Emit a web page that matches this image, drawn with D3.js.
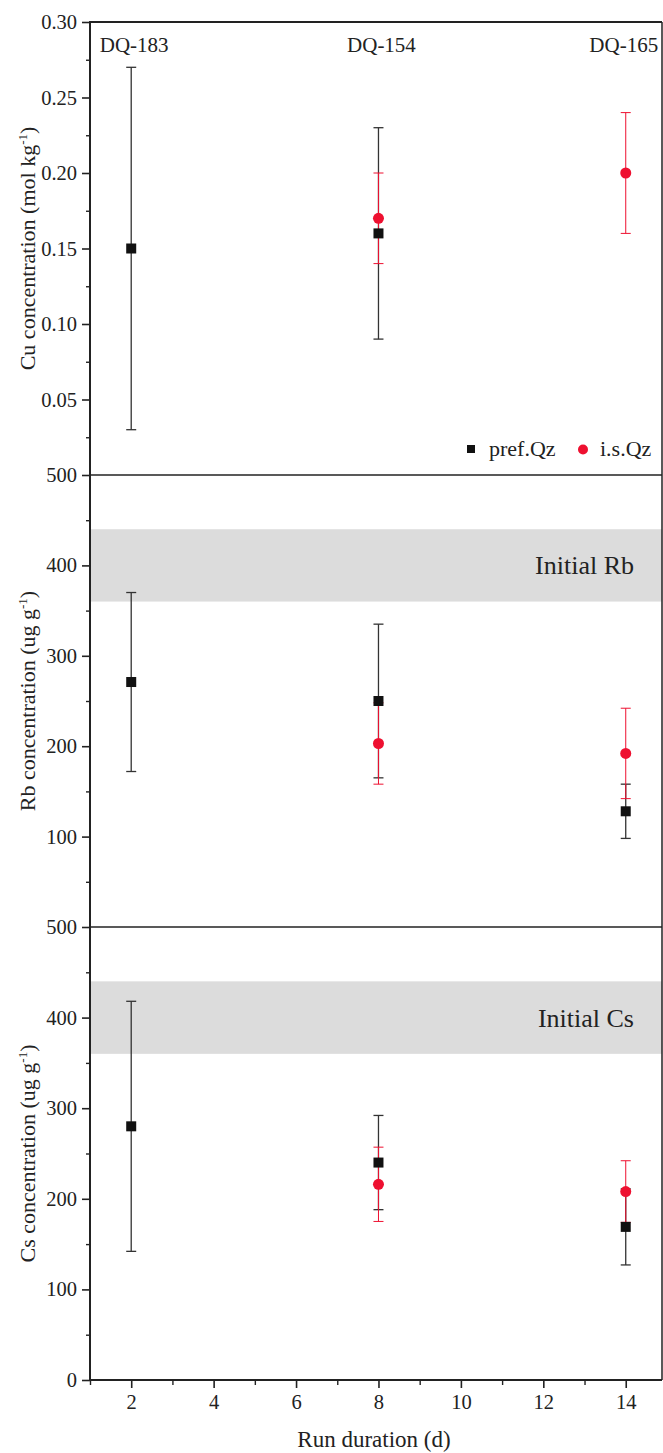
<!DOCTYPE html>
<html>
<head>
<meta charset="utf-8">
<script src="https://cdn.jsdelivr.net/npm/d3@7/dist/d3.min.js"></script>
<style>
  html, body { margin: 0; padding: 0; background: #fff; }
  svg { display: block; font-family: "Liberation Serif", "Times New Roman", serif; }
</style>
</head>
<body>
<svg id="chart" width="663" height="1453"></svg>
<script>
// ---------- data ----------
const runDays = [2, 8, 14];
const sampleIds = ["DQ-183", "DQ-154", "DQ-165"];

const cuPref = [0.15, 0.16, null];
const cuPrefErr = [0.12, 0.07, null];
const cuIs = [null, 0.17, 0.20];
const cuIsErr = [null, 0.03, 0.04];

const rbPref = [271, 250, 128];
const rbPrefErr = [99, 85, 30];
const rbIs = [null, 203, 192];
const rbIsErr = [null, 45, 50];

const csPref = [280, 240, 169];
const csPrefErr = [138, 52, 42];
const csIs = [null, 216, 208];
const csIsErr = [null, 41, 34];

const initialRb = [360, 440];
const initialCs = [360, 440];

const cuTicks = [0.05, 0.10, 0.15, 0.20, 0.25, 0.30];
const cuTickLabels = ["0.05", "0.10", "0.15", "0.20", "0.25", "0.30"];
const rbTicks = [100, 200, 300, 400, 500];
const csTicks = [0, 100, 200, 300, 400, 500];
const xTicks = [2, 4, 6, 8, 10, 12, 14];
const xMinorTicks = [1, 3, 5, 7, 9, 11, 13];

const legendLabels = ["pref.Qz", "i.s.Qz"];

// ---------- layout ----------
const svg = d3.select("#chart");
const left = 90, right = 662;
const panelTops = [22, 475, 927];
const bottom = 1380;
const red = "#ee1030";
const ink = "#222";
const tickFont = 20.5;

const x = d3.scaleLinear().domain([1, 14.88]).range([left, right]);

const yCu = d3.scaleLinear().domain([0, 0.30]).range([panelTops[1], panelTops[0]]);
const yRb = d3.scaleLinear().domain([0, 500]).range([panelTops[2], panelTops[1]]);
const yCs = d3.scaleLinear().domain([0, 500]).range([bottom, panelTops[2]]);

function toRows(vals, errs) {
  return runDays.map((d, i) => ({ x: d, y: vals[i], e: errs[i] })).filter(r => r.y != null);
}

// bands
function band(yScale, range, label) {
  svg.append("rect")
    .attr("x", left).attr("width", right - left)
    .attr("y", yScale(range[1]))
    .attr("height", yScale(range[0]) - yScale(range[1]))
    .attr("fill", "#dcdcdc");
  svg.append("text")
    .attr("x", 634).attr("y", (yScale(range[0]) + yScale(range[1])) / 2 + 9)
    .attr("text-anchor", "end")
    .attr("font-size", 26).attr("fill", ink)
    .text(label);
}
band(yRb, initialRb, "Initial Rb");
band(yCs, initialCs, "Initial Cs");

// error bars and markers
function errorBars(yScale, rows, color, width) {
  const g = svg.append("g").attr("stroke", color).attr("stroke-width", width).attr("fill", "none");
  rows.forEach(r => {
    g.append("line").attr("x1", x(r.x)).attr("x2", x(r.x))
      .attr("y1", yScale(r.y - r.e)).attr("y2", yScale(r.y + r.e));
    [r.y - r.e, r.y + r.e].forEach(v => {
      g.append("line").attr("x1", x(r.x) - 5).attr("x2", x(r.x) + 5)
        .attr("y1", yScale(v)).attr("y2", yScale(v));
    });
  });
}
function squares(yScale, rows) {
  svg.append("g").selectAll("rect").data(rows).join("rect")
    .attr("x", d => x(d.x) - 5).attr("y", d => yScale(d.y) - 5)
    .attr("width", 10).attr("height", 10).attr("fill", "#111");
}
function circles(yScale, rows) {
  svg.append("g").selectAll("circle").data(rows).join("circle")
    .attr("cx", d => x(d.x)).attr("cy", d => yScale(d.y))
    .attr("r", 5.5).attr("fill", red);
}

const panels = [
  [yCu, toRows(cuPref, cuPrefErr), toRows(cuIs, cuIsErr)],
  [yRb, toRows(rbPref, rbPrefErr), toRows(rbIs, rbIsErr)],
  [yCs, toRows(csPref, csPrefErr), toRows(csIs, csIsErr)]
];
panels.forEach(([ys, pref, is]) => {
  errorBars(ys, pref, "#333", 1.3);
  errorBars(ys, is, red, 1);
  squares(ys, pref);
  circles(ys, is);
});

// sample labels
svg.append("g").selectAll("text").data(runDays).join("text")
  .attr("x", (d, i) => x(d) + (i === 2 ? -2 : 3))
  .attr("y", 52)
  .attr("text-anchor", "middle")
  .attr("font-size", 21).attr("fill", ink)
  .text((d, i) => sampleIds[i]);

// axes
function yAxis(yScale, ticks, labels, minorStep, lo, hi) {
  const g = svg.append("g").attr("transform", `translate(${left},0)`);
  g.call(d3.axisLeft(yScale).tickValues(ticks).tickSize(8).tickPadding(5)
    .tickFormat((d, i) => labels ? labels[i] : d));
  g.select(".domain").remove();
  g.selectAll(".tick line").attr("stroke", ink).attr("stroke-width", 1.6);
  g.selectAll(".tick text").attr("font-size", tickFont).attr("fill", ink)
    .attr("font-family", "Liberation Serif, serif");
  const minor = d3.range(lo, hi + 1e-9, minorStep).filter(v => !ticks.some(t => Math.abs(t - v) < 1e-9));
  const gm = svg.append("g").attr("transform", `translate(${left},0)`);
  gm.call(d3.axisLeft(yScale).tickValues(minor).tickSize(4).tickFormat(""));
  gm.select(".domain").remove();
  gm.selectAll(".tick line").attr("stroke", ink).attr("stroke-width", 1.4);
}
yAxis(yCu, cuTicks, cuTickLabels, 0.025, 0.025, 0.275);
yAxis(yRb, rbTicks, null, 50, 50, 450);
yAxis(yCs, csTicks, null, 50, 50, 450);

// x axis
const gx = svg.append("g").attr("transform", `translate(0,${bottom})`);
gx.call(d3.axisBottom(x).tickValues(xTicks).tickSize(8).tickPadding(6));
gx.select(".domain").remove();
gx.selectAll(".tick line").attr("stroke", ink).attr("stroke-width", 1.6);
gx.selectAll(".tick text").attr("font-size", tickFont).attr("fill", ink)
  .attr("font-family", "Liberation Serif, serif");
const gxm = svg.append("g").attr("transform", `translate(0,${bottom})`);
gxm.call(d3.axisBottom(x).tickValues(xMinorTicks).tickSize(5).tickFormat(""));
gxm.select(".domain").remove();
gxm.selectAll(".tick line").attr("stroke", ink).attr("stroke-width", 1.4);

// frame lines
svg.append("line").attr("x1", left).attr("x2", left).attr("y1", panelTops[0]).attr("y2", bottom)
  .attr("stroke", ink).attr("stroke-width", 2);
svg.append("line").attr("x1", right).attr("x2", right).attr("y1", panelTops[0]).attr("y2", bottom)
  .attr("stroke", ink).attr("stroke-width", 1.5);
svg.append("line").attr("x1", left - 1).attr("x2", right).attr("y1", panelTops[0]).attr("y2", panelTops[0])
  .attr("stroke", ink).attr("stroke-width", 2.2);
[panelTops[1], panelTops[2]].forEach(yv => {
  svg.append("line").attr("x1", left).attr("x2", right).attr("y1", yv).attr("y2", yv)
    .attr("stroke", ink).attr("stroke-width", 1.6);
});
svg.append("line").attr("x1", left - 1).attr("x2", right).attr("y1", bottom).attr("y2", bottom)
  .attr("stroke", ink).attr("stroke-width", 2);

// axis titles
svg.append("text").attr("x", (left + right) / 2 - 2).attr("y", 1447)
  .attr("text-anchor", "middle").attr("font-size", 23).attr("fill", ink)
  .text("Run duration (d)");

function yTitle(cy, main, unitA, unitB) {
  const t = svg.append("text")
    .attr("transform", `translate(35,${cy}) rotate(-90)`)
    .attr("text-anchor", "middle").attr("font-size", 22).attr("fill", ink);
  t.append("tspan").text(main + unitA);
  t.append("tspan").attr("font-size", 13).attr("dy", -8).text("-1");
  t.append("tspan").attr("dy", 8).text(unitB);
}
yTitle((panelTops[0] + panelTops[1]) / 2, "Cu concentration ", "(mol kg", ")");
yTitle((panelTops[1] + panelTops[2]) / 2, "Rb concentration ", "(ug g", ")");
yTitle((panelTops[2] + bottom) / 2, "Cs concentration ", "(ug g", ")");

// legend
const lg = svg.append("g").attr("font-size", 22).attr("fill", ink);
lg.append("rect").attr("x", 467).attr("y", 445).attr("width", 8).attr("height", 8).attr("fill", "#111");
lg.append("text").attr("x", 489).attr("y", 456).text(legendLabels[0]);
lg.append("circle").attr("cx", 583).attr("cy", 449.5).attr("r", 5).attr("fill", red);
lg.append("text").attr("x", 600).attr("y", 456).text(legendLabels[1]);
</script>
</body>
</html>
